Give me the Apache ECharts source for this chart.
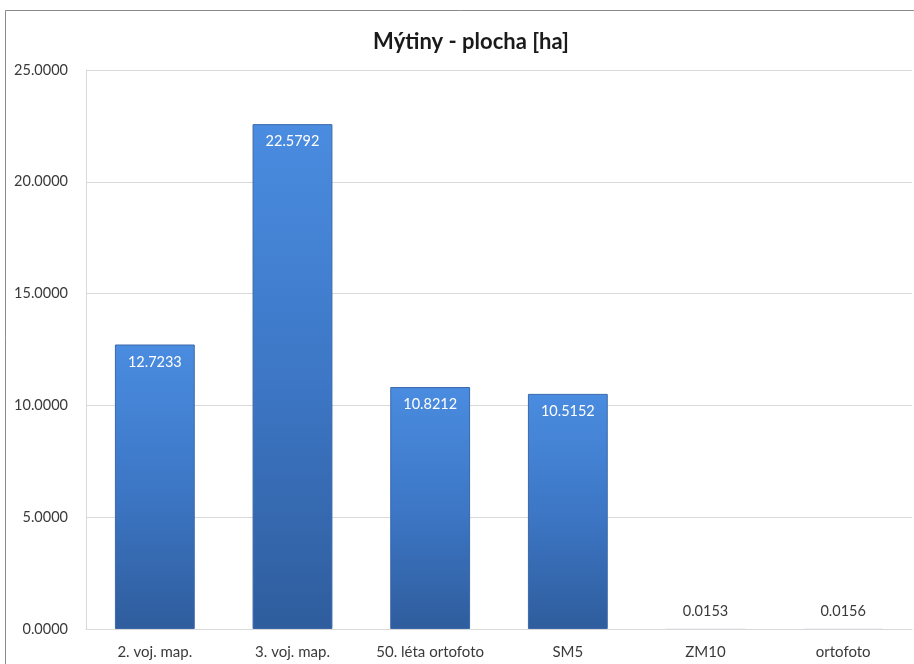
<!DOCTYPE html>
<html>
<head>
<meta charset="utf-8">
<script src="https://cdn.jsdelivr.net/npm/echarts@6/dist/echarts.min.js"></script>
<style>
  html, body { margin: 0; padding: 0; background: #fff; }
  #chart { width: 914px; height: 664px; }
</style>
</head>
<body>
<div id="chart"></div>
<script>
// Clearing area by map source, in hectares
const categories = ['2. voj. map.', '3. voj. map.', '50. léta ortofoto', 'SM5', 'ZM10', 'ortofoto'];
const areaHa = [12.7233, 22.5792, 10.8212, 10.5152, 0.0153, 0.0156];
const titleText = 'Mýtiny - plocha [ha]';

const FONT = 'Lato, "Open Sans", sans-serif';
const TEXT = '#3a3a3a';

const barGradient = new echarts.graphic.LinearGradient(0, 0, 0, 1, [
  { offset: 0, color: '#4a8ce0' },
  { offset: 0.5, color: '#3d77c6' },
  { offset: 1, color: '#2f5d9d' }
]);

// Tall bars carry their value inside the top; tiny ones show it above
const seriesData = areaHa.map(v => {
  const small = v < 1;
  return {
    value: v,
    itemStyle: small ? { borderWidth: 0, color: '#c3d2e6' } : undefined,
    label: small
      ? { position: 'top', distance: 10, color: TEXT, fontSize: 14.5 }
      : { position: 'insideTop', distance: 10, color: '#ffffff', fontSize: 14.5 }
  };
});

const chart = echarts.init(document.getElementById('chart'), null, { renderer: 'canvas' });
chart.setOption({
  animation: false,
  backgroundColor: '#ffffff',
  title: {
    text: titleText,
    left: 466,
    textAlign: 'center',
    top: 26,
    textStyle: { fontFamily: FONT, fontSize: 22, fontWeight: 'bold', color: '#1a1a1a' }
  },
  graphic: [{
    type: 'polyline',
    silent: true,
    shape: { points: [[5.5, 664], [5.5, 10.5], [914, 10.5]] },
    style: { stroke: '#8a8a8a', lineWidth: 1, fill: null }
  }],
  grid: { left: 86, right: 2, top: 70, bottom: 35, containLabel: false },
  xAxis: {
    type: 'category',
    data: categories,
    axisTick: { show: false },
    axisLine: { show: true, lineStyle: { color: '#d9d9d9' } },
    axisLabel: { color: TEXT, fontFamily: FONT, fontSize: 15, margin: 16, interval: 0, hideOverlap: false }
  },
  yAxis: {
    type: 'value',
    min: 0,
    max: 25,
    interval: 5,
    axisLine: { show: true, lineStyle: { color: '#d9d9d9' } },
    axisTick: { show: false },
    splitLine: { lineStyle: { color: '#d9d9d9' } },
    axisLabel: {
      color: TEXT, fontFamily: FONT, fontSize: 14.5, margin: 18,
      formatter: v => v.toFixed(4)
    }
  },
  series: [{
    type: 'bar',
    data: seriesData,
    barWidth: '58%',
    itemStyle: { color: barGradient, borderColor: '#3a68ab', borderWidth: 1 },
    label: {
      show: true,
      fontFamily: FONT,
      formatter: p => p.value.toFixed(4)
    }
  }]
});
</script>
</body>
</html>
